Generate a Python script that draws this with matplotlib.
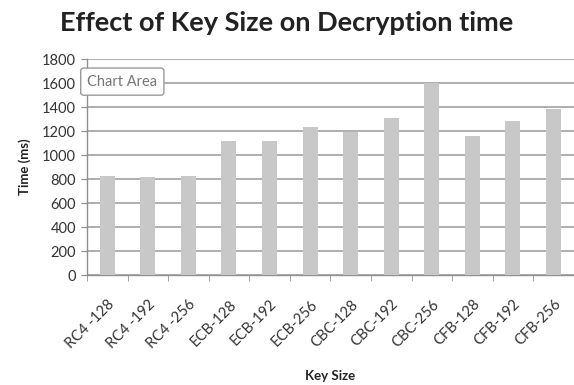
import matplotlib
matplotlib.use("Agg")
import matplotlib.pyplot as plt
import numpy as np

categories = ["RC4 -128", "RC4 -192", "RC4 -256", "ECB-128", "ECB-192", "ECB-256",
              "CBC-128", "CBC-192", "CBC-256", "CFB-128", "CFB-192", "CFB-256"]
times = [825, 815, 825, 1115, 1115, 1230, 1195, 1305, 1600, 1160, 1285, 1380]
yticks = [0, 200, 400, 600, 800, 1000, 1200, 1400, 1600, 1800]

plt.rcParams['font.family'] = ['Lato', 'DejaVu Sans']

fig = plt.figure(figsize=(5.74, 3.85), dpi=100)
ax = fig.add_axes([0.1516, 0.2857, 0.848, 0.561])

x = np.arange(len(categories))
ax.bar(x, times, width=0.37, color='#c8c8c8', zorder=3)

ax.set_xlim(-0.5, len(categories) - 0.5)
ax.set_ylim(0, 1800)
ax.set_yticks(yticks)
ax.set_yticklabels([str(v) for v in yticks], fontsize=10.5, color='#333333')
ax.yaxis.grid(True, color='#a8a8a8', linewidth=1.3, zorder=0)
ax.set_axisbelow(True)

ax.set_xticks(x)
ax.set_xticklabels(categories, rotation=45, ha='right', rotation_mode='anchor',
                   fontsize=10.5, color='#333333')
ax.tick_params(axis='x', length=0, pad=16)
ax.set_xticks(np.arange(-0.5, len(categories), 1.0), minor=True)
ax.tick_params(axis='x', which='minor', length=4, color='#909090')
ax.tick_params(axis='y', length=4, color='#909090', pad=4)

for s in ['top', 'right']:
    ax.spines[s].set_visible(False)
for s in ['left', 'bottom']:
    ax.spines[s].set_color('#909090')
    ax.spines[s].set_linewidth(1.0)

ax.set_ylabel("Time (ms)", fontsize=9.5, fontweight='bold', color='#222222', labelpad=8)
fig.text(0.575, 0.023, "Key Size", ha='center', va='center', fontsize=9.5,
         fontweight='bold', color='#222222')
fig.text(0.499, 0.94, "Effect of Key Size on Decryption time", ha='center', va='center',
         fontsize=19.5, fontweight='bold', color='#222222')

fig.text(0.152, 0.788, "Chart Area", ha='left', va='center', fontsize=10.5,
         color='#777777',
         bbox=dict(boxstyle='round,pad=0.45,rounding_size=0.2', facecolor='white',
                   edgecolor='#999999', linewidth=1.0))

fig.savefig("out.png", dpi=100)
